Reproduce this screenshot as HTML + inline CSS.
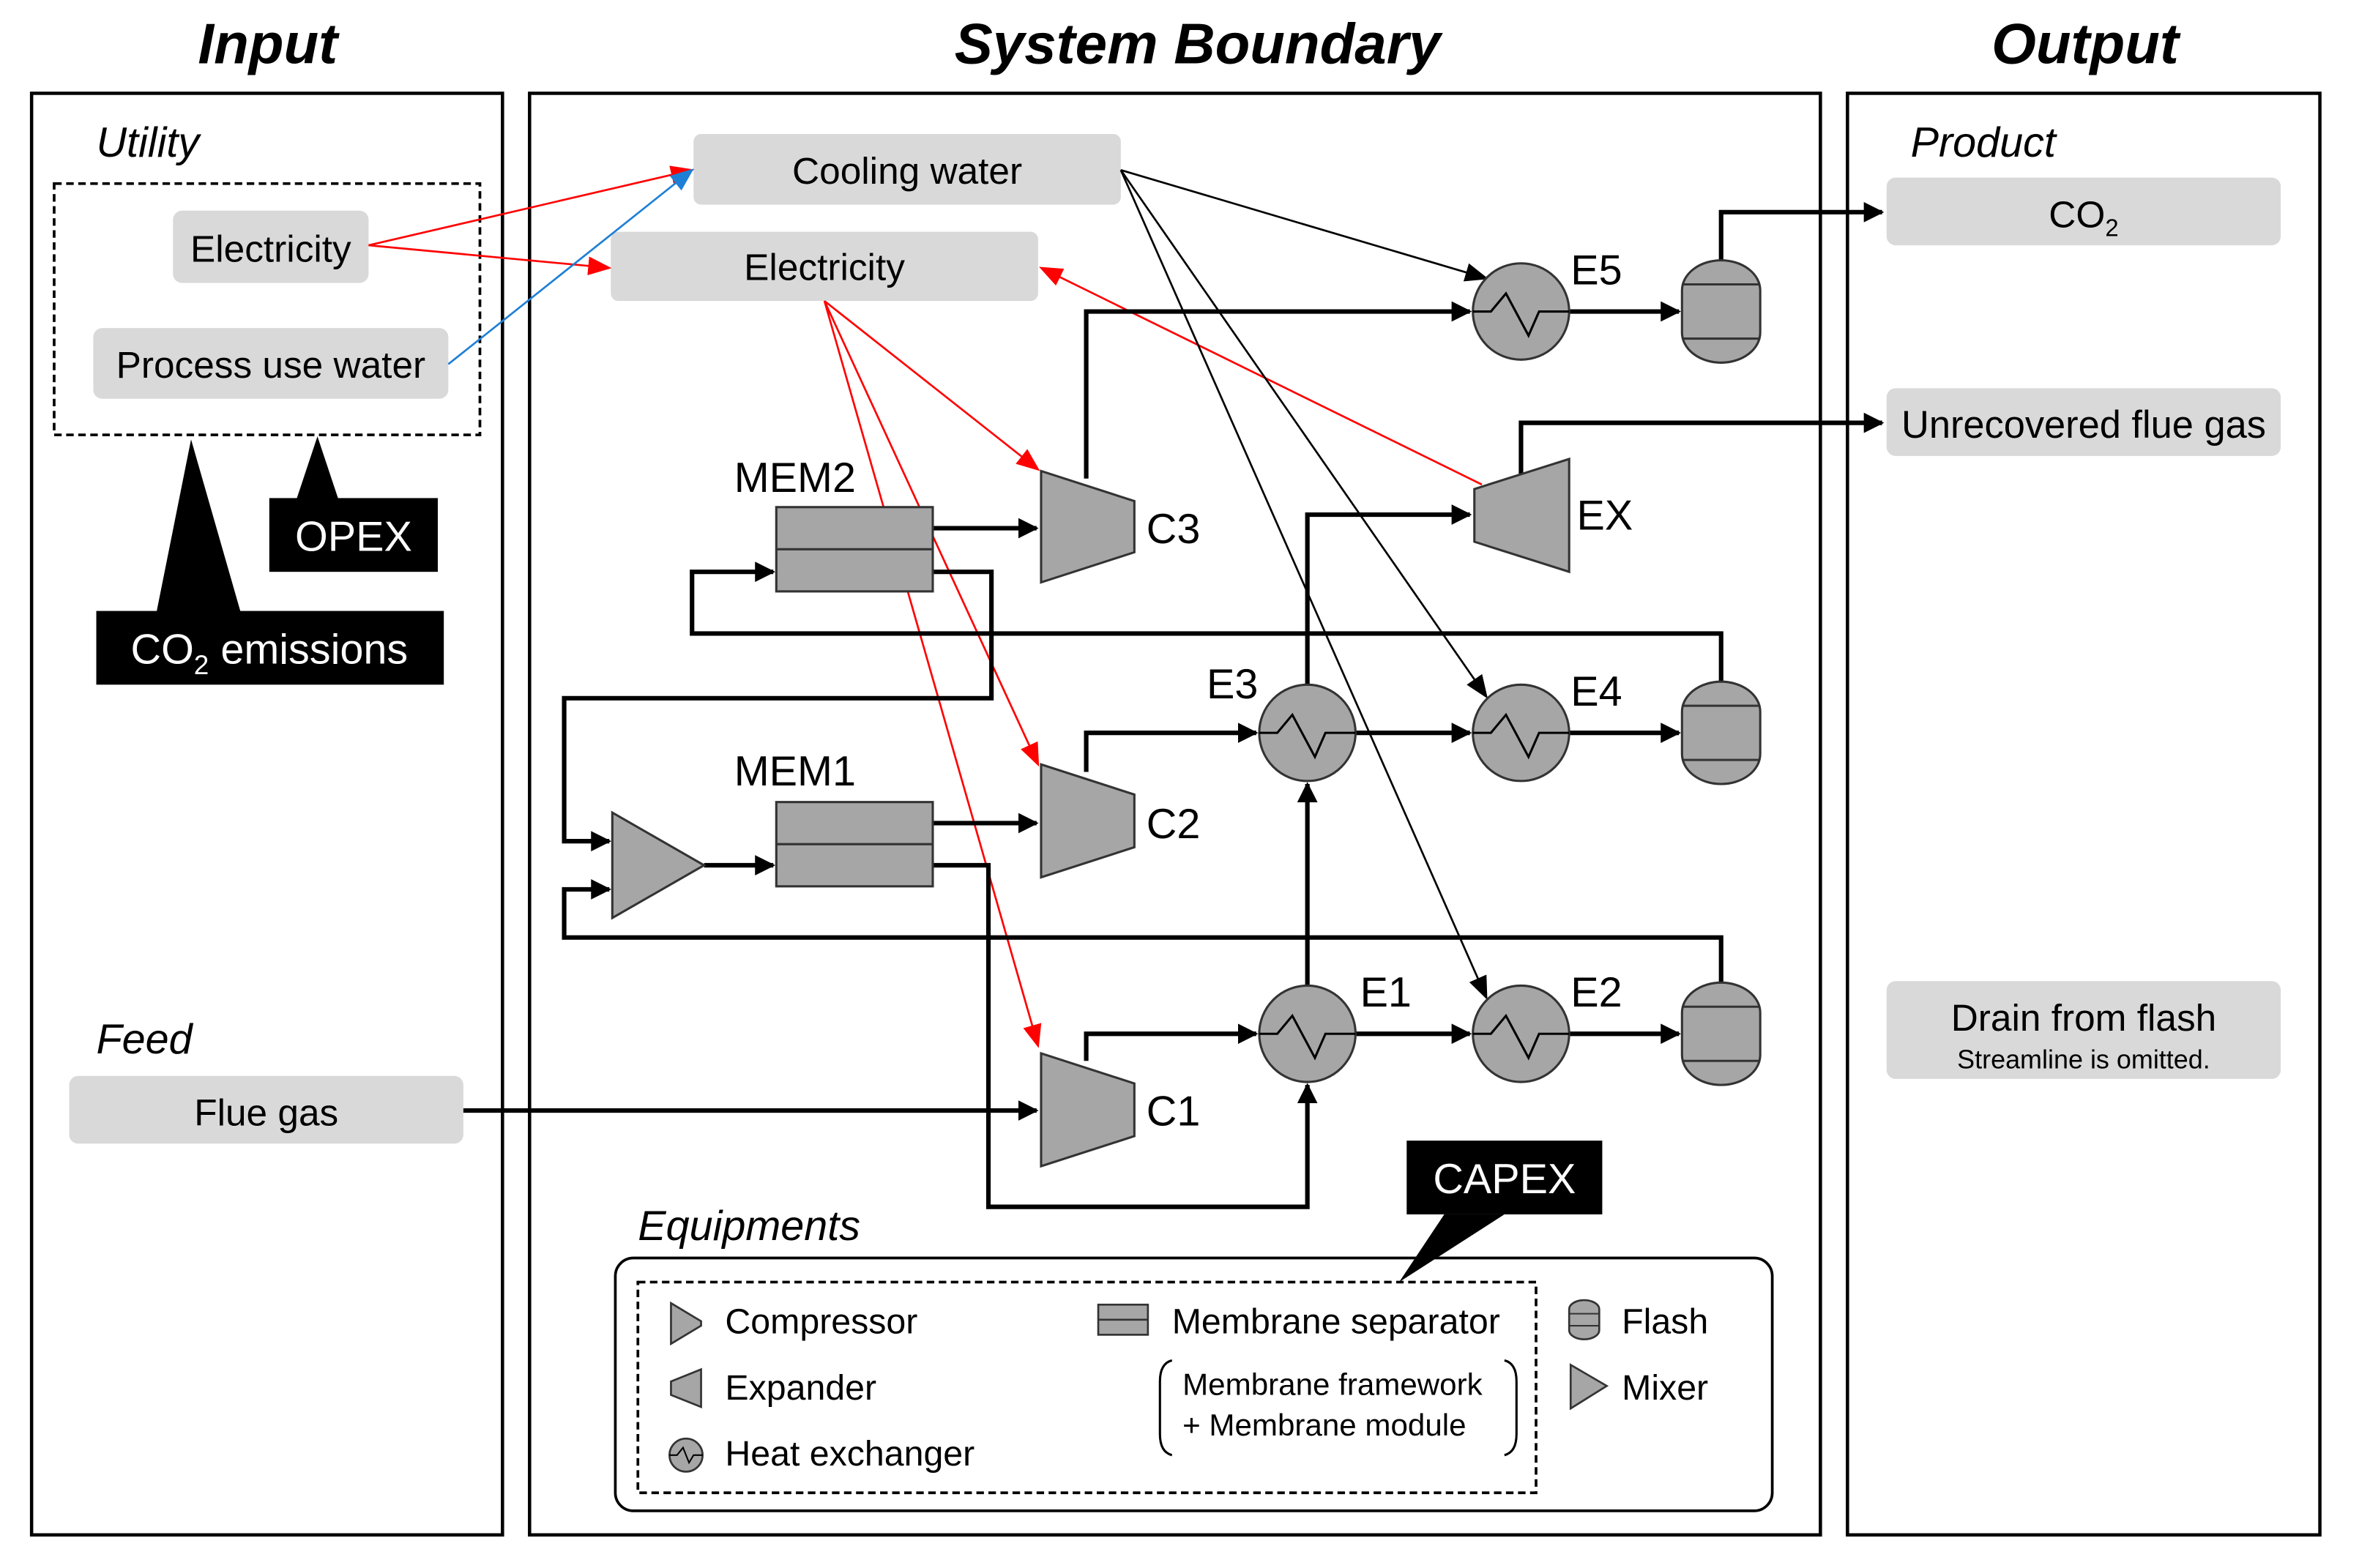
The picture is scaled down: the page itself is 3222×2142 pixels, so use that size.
<!DOCTYPE html>
<html><head><meta charset="utf-8"><style>
html,body{margin:0;padding:0;background:#fff}
svg{display:block}
text{font-family:"Liberation Sans",Arial,sans-serif;fill:#000}
</style></head><body>
<svg width="3222" height="2142" viewBox="0 0 1568 1042" preserveAspectRatio="none" xmlns="http://www.w3.org/2000/svg">
<defs>
<marker id="ab" viewBox="0 0 10 10" refX="9" refY="5" markerWidth="4.5" markerHeight="4.5" orient="auto" markerUnits="strokeWidth"><path d="M0,0 L10,5 L0,10 z" fill="#000"/></marker>
<marker id="at" viewBox="0 0 10 10" refX="9" refY="5" markerWidth="12" markerHeight="12" orient="auto" markerUnits="strokeWidth"><path d="M0,1 L10,5 L0,9 z" fill="#000"/></marker>
<marker id="ar" viewBox="0 0 10 10" refX="9" refY="5" markerWidth="12" markerHeight="12" orient="auto" markerUnits="strokeWidth"><path d="M0,1 L10,5 L0,9 z" fill="#f00"/></marker>
<marker id="abl" viewBox="0 0 10 10" refX="9" refY="5" markerWidth="12" markerHeight="12" orient="auto" markerUnits="strokeWidth"><path d="M0,1 L10,5 L0,9 z" fill="#1e7fd6"/></marker>
<g id="hx"><circle cx="0" cy="0" r="32" fill="#a6a6a6" stroke="#333" stroke-width="1.5"/><path d="M-32,0 H-20 L-10,-12 L5,16 L12,0 H32" fill="none" stroke="#000" stroke-width="1.5"/></g>
<g id="fl"><path d="M-26,-14 A26,20 0 0 1 26,-14 V14 A26,20 0 0 1 -26,14 Z" fill="#a6a6a6" stroke="#333" stroke-width="1.5"/><path d="M-26,-18 H26 M-26,18 H26" stroke="#333" stroke-width="1.5"/></g>
</defs>

<text x="178" y="42" font-size="38" font-weight="bold" font-style="italic" text-anchor="middle">Input</text>
<text x="796" y="42" font-size="38" font-weight="bold" font-style="italic" text-anchor="middle">System Boundary</text>
<text x="1386" y="42" font-size="38" font-weight="bold" font-style="italic" text-anchor="middle">Output</text>

<g fill="none" stroke="#000" stroke-width="2.2">
<rect x="21" y="62" width="313" height="958"/>
<rect x="352" y="62" width="858" height="958"/>
<rect x="1228" y="62" width="314" height="958"/>
</g>

<text x="64" y="104" font-size="28" font-style="italic">Utility</text>
<rect x="36" y="122" width="283" height="167" fill="none" stroke="#000" stroke-width="1.8" stroke-dasharray="5,3"/>
<rect x="115" y="140" width="130" height="48" rx="6" fill="#d9d9d9"/>
<text x="180" y="174" font-size="25" text-anchor="middle">Electricity</text>
<rect x="62" y="218" width="236" height="47" rx="6" fill="#d9d9d9"/>
<text x="180" y="251" font-size="25" text-anchor="middle">Process use water</text>
<path d="M197,332 L211,290 L225,332 Z" fill="#000"/>
<rect x="179" y="331" width="112" height="49" fill="#000"/>
<text x="235" y="366" font-size="28" text-anchor="middle" style="fill:#fff">OPEX</text>
<path d="M104,407 L127,292 L160,407 Z" fill="#000"/>
<rect x="64" y="406" width="231" height="49" fill="#000"/>
<text x="179" y="441" font-size="28" text-anchor="middle" style="fill:#fff">CO<tspan font-size="18" dy="7" style="fill:#fff">2</tspan><tspan dy="-7" style="fill:#fff"> emissions</tspan></text>
<text x="64" y="700" font-size="28" font-style="italic">Feed</text>
<rect x="46" y="715" width="262" height="45" rx="6" fill="#d9d9d9"/>
<text x="177" y="748" font-size="25" text-anchor="middle">Flue gas</text>

<rect x="461" y="89" width="284" height="47" rx="5" fill="#d9d9d9"/>
<text x="603" y="122" font-size="25" text-anchor="middle">Cooling water</text>
<rect x="406" y="154" width="284" height="46" rx="5" fill="#d9d9d9"/>
<text x="548" y="186" font-size="25" text-anchor="middle">Electricity</text>

<g fill="none" stroke-width="1.3">
<path d="M245,163 L460,113" stroke="#f00" marker-end="url(#ar)"/>
<path d="M245,163 L405,178" stroke="#f00" marker-end="url(#ar)"/>
<path d="M298,242 L460,113" stroke="#1e7fd6" marker-end="url(#abl)"/>
<path d="M548,200 L690,312" stroke="#f00" marker-end="url(#ar)"/>
<path d="M548,200 L690,508" stroke="#f00" marker-end="url(#ar)"/>
<path d="M548,200 L690,695" stroke="#f00" marker-end="url(#ar)"/>
<path d="M985,322 L692,178" stroke="#f00" marker-end="url(#ar)"/>
<path d="M745,113 L988,185" stroke="#000" marker-end="url(#at)"/>
<path d="M745,113 L988,463" stroke="#000" marker-end="url(#at)"/>
<path d="M745,113 L988,663" stroke="#000" marker-end="url(#at)"/>
</g>

<g fill="none" stroke="#000" stroke-width="3">
<path d="M308,738 H689" marker-end="url(#ab)"/>
<path d="M722,705 V687 H835" marker-end="url(#ab)"/>
<path d="M901,687 H977" marker-end="url(#ab)"/>
<path d="M1043,687 H1116" marker-end="url(#ab)"/>
<path d="M1144,653 V623 H375 V591 H405" marker-end="url(#ab)"/>
<path d="M620,380 H659 V464 H375 V559 H405" marker-end="url(#ab)"/>
<path d="M468,575 H514" marker-end="url(#ab)"/>
<path d="M620,547 H689" marker-end="url(#ab)"/>
<path d="M620,575 H657 V802 H869 V721" marker-end="url(#ab)"/>
<path d="M722,513 V487 H835" marker-end="url(#ab)"/>
<path d="M901,487 H977" marker-end="url(#ab)"/>
<path d="M1043,487 H1116" marker-end="url(#ab)"/>
<path d="M869,655 V521" marker-end="url(#ab)"/>
<path d="M869,455 V342 H977" marker-end="url(#ab)"/>
<path d="M1144,453 V421 H460 V380 H514" marker-end="url(#ab)"/>
<path d="M620,351 H689" marker-end="url(#ab)"/>
<path d="M722,318 V207 H977" marker-end="url(#ab)"/>
<path d="M1043,207 H1116" marker-end="url(#ab)"/>
<path d="M1144,173 V141 H1251" marker-end="url(#ab)"/>
<path d="M1011,315 V281 H1251" marker-end="url(#ab)"/>
</g>

<g fill="#a6a6a6" stroke="#333" stroke-width="1.5">
<path d="M692,313 L754,333 L754,367 L692,387 Z"/>
<path d="M692,508 L754,528 L754,563 L692,583 Z"/>
<path d="M692,700 L754,720 L754,755 L692,775 Z"/>
<path d="M980,325 L1043,305 L1043,380 L980,360 Z"/>
<path d="M407,540 L468,575 L407,610 Z"/>
<rect x="516" y="337" width="104" height="56"/>
<line x1="516" y1="365" x2="620" y2="365"/>
<rect x="516" y="533" width="104" height="56"/>
<line x1="516" y1="561" x2="620" y2="561"/>
</g>
<use href="#hx" x="1011" y="207"/>
<use href="#hx" x="1011" y="487"/>
<use href="#hx" x="869" y="487"/>
<use href="#hx" x="869" y="687"/>
<use href="#hx" x="1011" y="687"/>
<use href="#fl" x="1144" y="207"/>
<use href="#fl" x="1144" y="487"/>
<use href="#fl" x="1144" y="687"/>

<g font-size="28">
<text x="762" y="361">C3</text>
<text x="762" y="557">C2</text>
<text x="762" y="748">C1</text>
<text x="1048" y="352">EX</text>
<text x="1044" y="189">E5</text>
<text x="1044" y="469">E4</text>
<text x="802" y="464">E3</text>
<text x="904" y="669">E1</text>
<text x="1044" y="669">E2</text>
<text x="488" y="327">MEM2</text>
<text x="488" y="522">MEM1</text>
</g>

<text x="1270" y="104" font-size="28" font-style="italic">Product</text>
<rect x="1254" y="118" width="262" height="45" rx="6" fill="#d9d9d9"/>
<text x="1385" y="151" font-size="25" text-anchor="middle">CO<tspan font-size="16" dy="6">2</tspan></text>
<rect x="1254" y="258" width="262" height="45" rx="6" fill="#d9d9d9"/>
<text x="1385" y="291" font-size="25.5" text-anchor="middle">Unrecovered flue gas</text>
<rect x="1254" y="652" width="262" height="65" rx="6" fill="#d9d9d9"/>
<text x="1385" y="685" font-size="25" text-anchor="middle">Drain from flash</text>
<text x="1385" y="710" font-size="17.5" text-anchor="middle">Streamline is omitted.</text>

<text x="424" y="824" font-size="28" font-style="italic">Equipments</text>
<rect x="409" y="836" width="769" height="168" rx="12" fill="none" stroke="#000" stroke-width="1.8"/>
<rect x="424" y="852" width="597" height="140" fill="none" stroke="#000" stroke-width="1.8" stroke-dasharray="5,3"/>
<path d="M960,807 L1000,807 L930,852 Z" fill="#000"/>
<rect x="935" y="758" width="130" height="49" fill="#000"/>
<text x="1000" y="793" font-size="28" text-anchor="middle" style="fill:#fff">CAPEX</text>
<g fill="#a6a6a6" stroke="#333" stroke-width="1.3">
<path d="M446,866 L466,878 L466,881 L446,893 Z"/>
<path d="M466,910 L446,918 L446,927 L466,935 Z"/>
<circle cx="456" cy="967" r="11"/>
<rect x="730" y="867" width="33" height="20"/>
<line x1="730" y1="877" x2="763" y2="877"/>
<path d="M1043,870 A10,6 0 0 1 1063,870 V884 A10,6 0 0 1 1043,884 Z"/>
<path d="M1044,907 L1068,921 L1044,936 Z"/>
</g>
<path d="M445,967 H450 L454,962 L458,972 L461,967 H467" fill="none" stroke="#000" stroke-width="1"/>
<path d="M1043,873 H1063 M1043,881 H1063" stroke="#333" stroke-width="1"/>
<g font-size="23.5">
<text x="482" y="886">Compressor</text>
<text x="482" y="930">Expander</text>
<text x="482" y="974">Heat exchanger</text>
<text x="779" y="886">Membrane separator</text>
<text x="1078" y="886">Flash</text>
<text x="1078" y="930">Mixer</text>
</g>
<g font-size="20.5">
<text x="786" y="927">Membrane framework</text>
<text x="786" y="954">+ Membrane module</text>
</g>
<path d="M779,904 Q771,906 771,918 V953 Q771,965 779,967" fill="none" stroke="#000" stroke-width="1.5"/>
<path d="M1000,904 Q1008,906 1008,918 V953 Q1008,965 1000,967" fill="none" stroke="#000" stroke-width="1.5"/>
</svg>
</body></html>
